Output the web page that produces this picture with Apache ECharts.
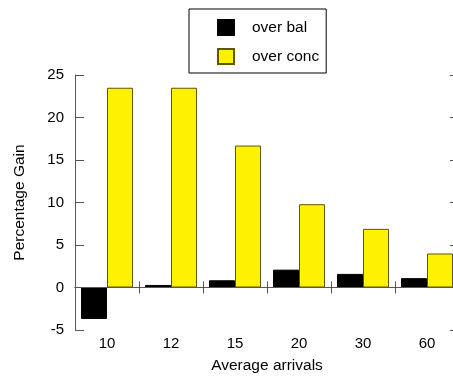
<!DOCTYPE html>
<html>
<head>
<meta charset="utf-8">
<script src="https://cdn.jsdelivr.net/npm/echarts@6/dist/echarts.min.js"></script>
<style>html,body{margin:0;padding:0;background:#fff;}#c{width:453px;height:376px;}</style>
</head>
<body>
<div id="c"></div>
<script>
var categories = ['10', '12', '15', '20', '30', '60'];
var overBal = [-3.7, 0.3, 0.85, 2.1, 1.6, 1.1];
var overConc = [23.5, 23.5, 16.7, 9.8, 6.9, 4.0];
var seriesNames = ['over bal', 'over conc'];
var yTicks = { min: -5, max: 25, interval: 5 };

var FONT = 'Liberation Sans, Arial, sans-serif';
var axisColor = '#555';
var chart = echarts.init(document.getElementById('c'), null, { renderer: 'canvas' });
chart.setOption({
  animation: false,
  backgroundColor: '#fff',
  textStyle: { fontFamily: FONT },
  legend: {
    orient: 'vertical',
    left: 189,
    top: 9,
    padding: [10, 7, 8, 28],
    borderColor: '#000',
    borderWidth: 1,
    itemWidth: 16,
    itemHeight: 15,
    itemGap: 12,
    icon: 'rect',
    textStyle: { fontFamily: FONT, fontSize: 15.5, color: '#000', padding: [0, 0, 0, 13] },
    data: seriesNames
  },
  grid: { left: 75, top: 75, width: 384, height: 255, outerBoundsMode: 'none', containLabel: false },
  xAxis: [{
    type: 'category',
    data: categories,
    position: 'bottom',
    name: 'Average arrivals',
    nameLocation: 'middle',
    nameGap: 28,
    nameTextStyle: { fontFamily: FONT, fontSize: 15.5, color: '#000' },
    axisLine: { show: true, lineStyle: { color: axisColor, width: 1 } },
    axisTick: { show: true, inside: true, length: 6, lineStyle: { color: axisColor } },
    axisLabel: { fontFamily: FONT, fontSize: 15, color: '#000', margin: 6 },
    splitLine: { show: false }
  }, {
    type: 'category',
    data: categories,
    position: 'top',
    axisLine: { show: true, lineStyle: { color: axisColor, width: 1 } },
    axisTick: { show: true, inside: true, length: 6, lineStyle: { color: axisColor } },
    axisLabel: { show: false },
    splitLine: { show: false }
  }],
  yAxis: [{
    type: 'value',
    min: yTicks.min,
    max: yTicks.max,
    interval: yTicks.interval,
    position: 'left',
    name: 'Percentage Gain',
    nameLocation: 'middle',
    nameGap: 47,
    nameTextStyle: { fontFamily: FONT, fontSize: 15.5, color: '#000' },
    axisLine: { show: true, onZero: false, lineStyle: { color: axisColor, width: 1 } },
    axisTick: { show: true, inside: true, length: 9, lineStyle: { color: axisColor } },
    axisLabel: { fontFamily: FONT, fontSize: 15, color: '#000', margin: 11 },
    splitLine: { show: false }
  }, {
    type: 'value',
    min: yTicks.min,
    max: yTicks.max,
    interval: yTicks.interval,
    position: 'right',
    axisLine: { show: true, onZero: false, lineStyle: { color: axisColor, width: 1 } },
    axisTick: { show: true, inside: true, length: 9, lineStyle: { color: axisColor } },
    axisLabel: { show: false },
    splitLine: { show: false }
  }],
  series: [{
    name: seriesNames[0],
    type: 'bar',
    data: overBal,
    barWidth: 26,
    barGap: '0%',
    itemStyle: { color: '#000', borderColor: '#000', borderWidth: 1 },
    markLine: {
      silent: true, symbol: 'none', label: { show: false },
      lineStyle: { color: axisColor, type: 'solid', width: 1 },
      data: [{ yAxis: 0 }]
    }
  }, {
    name: seriesNames[1],
    type: 'bar',
    data: overConc,
    barWidth: 26,
    barGap: '0%',
    itemStyle: { color: '#FFF200', borderColor: '#5e5600', borderWidth: 1 }
  }]
});
</script>
</body>
</html>
